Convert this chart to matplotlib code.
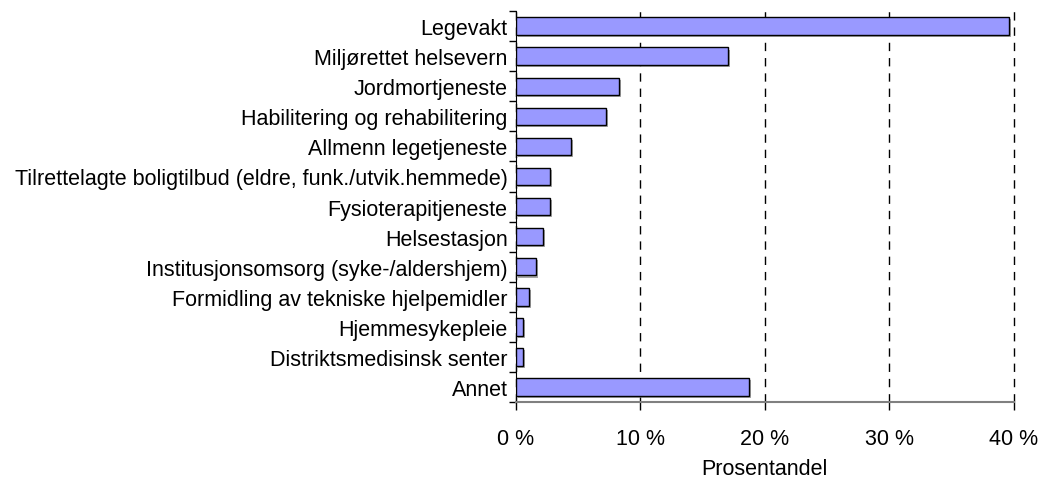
import numpy as np
import matplotlib.pyplot as plt
import matplotlib.patheffects as pe

plt.rcParams['font.family'] = ['Liberation Sans', 'DejaVu Sans']

categories = [
    "Legevakt",
    "Miljørettet helsevern",
    "Jordmortjeneste",
    "Habilitering og rehabilitering",
    "Allmenn legetjeneste",
    "Tilrettelagte boligtilbud (eldre, funk./utvik.hemmede)",
    "Fysioterapitjeneste",
    "Helsestasjon",
    "Institusjonsomsorg (syke-/aldershjem)",
    "Formidling av tekniske hjelpemidler",
    "Hjemmesykepleie",
    "Distriktsmedisinsk senter",
    "Annet",
]
values = [39.6, 17.0, 8.3, 7.2, 4.45, 2.75, 2.75, 2.15, 1.65, 1.07, 0.57, 0.57, 18.7]
xticks = [0, 10, 20, 30, 40]

fig = plt.figure(figsize=(10.4, 4.81), dpi=100)
ax = fig.add_axes([0.496, 0.162, 0.479, 0.813])

fs = 15.5

y = np.arange(len(categories))
bars = ax.barh(y, values, height=0.58, color="#9999FF", edgecolor="black",
               linewidth=1.0, zorder=3)
for b in bars:
    b.set_path_effects([pe.SimplePatchShadow(offset=(1.5, -1.5), shadow_rgbFace="gray", alpha=0.7),
                        pe.Normal()])

ax.set_xlim(0, 40)
ax.set_ylim(len(categories) - 0.5, -0.5)
ax.set_xticks(xticks)
ax.set_xticklabels([f"{t} %" for t in xticks])
ax.set_yticks(y)
ax.set_yticklabels(categories)
ax.set_yticks(np.arange(-0.5, len(categories), 1.0), minor=True)

ax.xaxis.grid(True, linestyle=(0, (6, 5)), color="black", linewidth=1.0, zorder=0)
for gl in ax.get_xgridlines():
    gl.set_clip_on(False)
ax.tick_params(axis="y", which="major", length=0, pad=6, labelsize=fs)
ax.tick_params(axis="y", which="minor", length=5, width=1.0, direction="out")
ax.tick_params(axis="x", which="major", length=6, width=1.0, direction="out",
               color="black", pad=13, labelsize=fs)

for s in ["top", "right"]:
    ax.spines[s].set_visible(False)
ax.spines["left"].set_color("black")
ax.spines["bottom"].set_color("#808080")
ax.spines["bottom"].set_linewidth(1.5)

ax.set_xlabel("Prosentandel", fontsize=fs, labelpad=6)

fig.savefig("out.png", dpi=100)
